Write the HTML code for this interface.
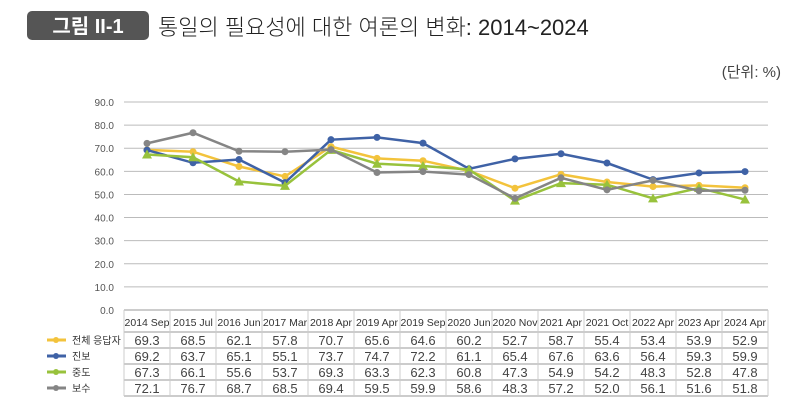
<!DOCTYPE html>
<html><head><meta charset="utf-8"><style>
body{margin:0;background:#fff;width:800px;height:405px;overflow:hidden;font-family:"Liberation Sans","Noto Sans CJK KR",sans-serif}
</style></head><body>
<svg width="800" height="405" xmlns="http://www.w3.org/2000/svg" font-family="Liberation Sans, Noto Sans CJK KR, sans-serif">
<rect x="27" y="11" width="122" height="29" rx="5" fill="#555"/>
<text x="88" y="33" font-size="20" font-weight="bold" fill="#fff" text-anchor="middle">그림 II-1</text>
<text x="158" y="35" font-size="22" fill="#222" font-weight="300">통일의 필요성에 대한 여론의 변화: 2014~2024</text>
<text x="781" y="77" font-size="15" fill="#444" text-anchor="end">(단위: %)</text>
<g id="grid" stroke="#bbb" stroke-width="1"></g>
<g id="ylab" font-size="10" fill="#555" text-anchor="end"></g>
<g id="tbl"></g>
<g id="series"></g>
</svg>
<script>
const ns="http://www.w3.org/2000/svg";
function el(p,t,a,txt){const e=document.createElementNS(ns,t);for(const k in a)e.setAttribute(k,a[k]);if(txt!==undefined)e.textContent=txt;p.appendChild(e);return e;}
const L=124,R=768;
const y=v=>310-v*(208/90);
const grid=document.getElementById('grid'),yl=document.getElementById('ylab');
for(let v=0;v<=90;v+=10){el(grid,'line',{x1:L,x2:R,y1:y(v),y2:y(v)});el(yl,'text',{x:114,y:y(v)+4},v.toFixed(1));}
const cs=["2014 Sep","2015 Jul","2016 Jun","2017 Mar","2018 Apr","2019 Apr","2019 Sep","2020 Jun","2020 Nov","2021 Apr","2021 Oct","2022 Apr","2023 Apr","2024 Apr"];
const data=[
["전체 응답자","#F3C33C",[69.3,68.5,62.1,57.8,70.7,65.6,64.6,60.2,52.7,58.7,55.4,53.4,53.9,52.9],'c'],
["진보","#3F62A6",[69.2,63.7,65.1,55.1,73.7,74.7,72.2,61.1,65.4,67.6,63.6,56.4,59.3,59.9],'c'],
["중도","#98C23C",[67.3,66.1,55.6,53.7,69.3,63.3,62.3,60.8,47.3,54.9,54.2,48.3,52.8,47.8],'t'],
["보수","#858585",[72.1,76.7,68.7,68.5,69.4,59.5,59.9,58.6,48.3,57.2,52.0,56.1,51.6,51.8],'c']];
const N=14,cw2=(R-L)/N;
const cx=i=>L+cw2*(i+0.5);
const tb=document.getElementById('tbl');
const rows=[310,332,348,364,380,396];
el(tb,'line',{x1:L,x2:R,y1:310,y2:310,stroke:'#999'});
for(let r=1;r<rows.length;r++)el(tb,'line',{x1:L,x2:R,y1:rows[r],y2:rows[r],stroke:'#999'});
for(let i=0;i<=N;i++)el(tb,'line',{x1:L+cw2*i,x2:L+cw2*i,y1:310,y2:396,stroke:'#ccc'});
cs.forEach((c,i)=>el(tb,'text',{x:cx(i),y:326,'font-size':10.5,fill:'#333','text-anchor':'middle'},c));
const sg=document.getElementById('series');
data.forEach((d,k)=>{
 const ry=rows[k+1]+13;
 el(tb,'line',{x1:47,x2:66,y1:ry-5,y2:ry-5,stroke:d[1],'stroke-width':3});
 el(tb,'circle',{cx:56,cy:ry-5,r:3,fill:d[1]});
 el(tb,'text',{x:72,y:ry-1,'font-size':10,fill:'#333'},d[0]);
 d[2].forEach((v,i)=>el(tb,'text',{x:cx(i),y:ry,'font-size':13,fill:'#444','text-anchor':'middle'},v.toFixed(1)));
 el(sg,'polyline',{points:d[2].map((v,i)=>cx(i)+','+y(v)).join(' '),fill:'none',stroke:d[1],'stroke-width':2.5});
 d[2].forEach((v,i)=>{if(d[3]=='t'){const X=cx(i),Y=y(v);el(sg,'polygon',{points:`${X-5},${Y+4} ${X+5},${Y+4} ${X},${Y-5}`,fill:d[1]});}else el(sg,'circle',{cx:cx(i),cy:y(v),r:3.5,fill:d[1]});});
});
</script>
</body></html>
